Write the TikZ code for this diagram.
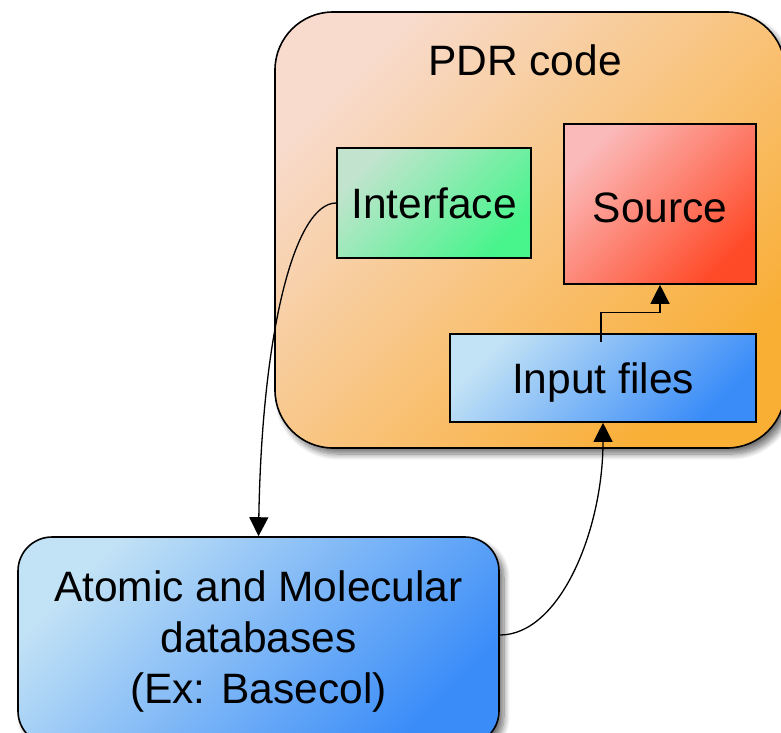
\documentclass[tikz,border=0pt]{standalone}
\usepackage{fontspec}
\setmainfont{Liberation Sans}
\usetikzlibrary{arrows.meta,shadows.blur}
\definecolor{pdrA}{HTML}{F8DBCD}
\definecolor{pdrB}{HTML}{F9AE34}
\definecolor{ifA}{HTML}{C2E4CE}
\definecolor{ifB}{HTML}{48F48C}
\definecolor{srcA}{HTML}{FBBABA}
\definecolor{srcB}{HTML}{FF4A28}
\definecolor{bluA}{HTML}{C2E2F5}
\definecolor{bluB}{HTML}{3A8CF8}
\begin{document}
\begin{tikzpicture}[x=1pt,y=-1pt,
  every node/.style={font=\fontsize{42.5}{51}\selectfont, inner sep=0pt},
  box/.style={draw=black, line width=1.6pt},
  diag/.style 2 args={top color=#1, bottom color=#2, shading angle=45},
  shad/.style={blur shadow={shadow xshift=5pt, shadow yshift=-6pt, shadow blur steps=10, shadow blur radius=6pt, shadow opacity=55}},
  conn/.style={line width=1.3pt, -{Triangle[length=19pt,width=19pt]}}
]
\useasboundingbox (0,0) rectangle (781,732);
% PDR code container
\node[box, shad, diag={pdrA}{pdrB}, rounded corners=58pt,
      minimum width=510pt, minimum height=436pt] (pdr) at (530,230) {};
\node (pdrlabel) at (525,60) {PDR code};
% inner boxes
\node[box, diag={ifA}{ifB}, minimum width=194pt, minimum height=110pt] (iface) at (434,203) {Interface};
\node[box, diag={srcA}{srcB}, minimum width=192pt, minimum height=160pt, text height=37pt, text depth=0pt] (src) at (660,204) {Source};
\node[box, diag={bluA}{bluB}, minimum width=306pt, minimum height=88pt, text depth=0pt] (input) at (603,378) {Input files};
% databases
\node[box, shad, diag={bluA}{bluB}, rounded corners=34pt, align=center,
      minimum width=481pt, minimum height=208pt] (atomic) at (258.5,641)
      {Atomic and Molecular\\databases\\(Ex: Basecol)};
% connectors
\draw[conn] (iface.west) .. controls (295,203) and (262,330) .. (atomic.north);
\draw[conn] ([yshift=6pt]atomic.east) .. controls (560,635) and (603,530) .. (input.south);
\draw[conn] ([xshift=-2pt,yshift=-9pt]input.north) -- ++(0,-30) -| (src.south);
\end{tikzpicture}
\end{document}
